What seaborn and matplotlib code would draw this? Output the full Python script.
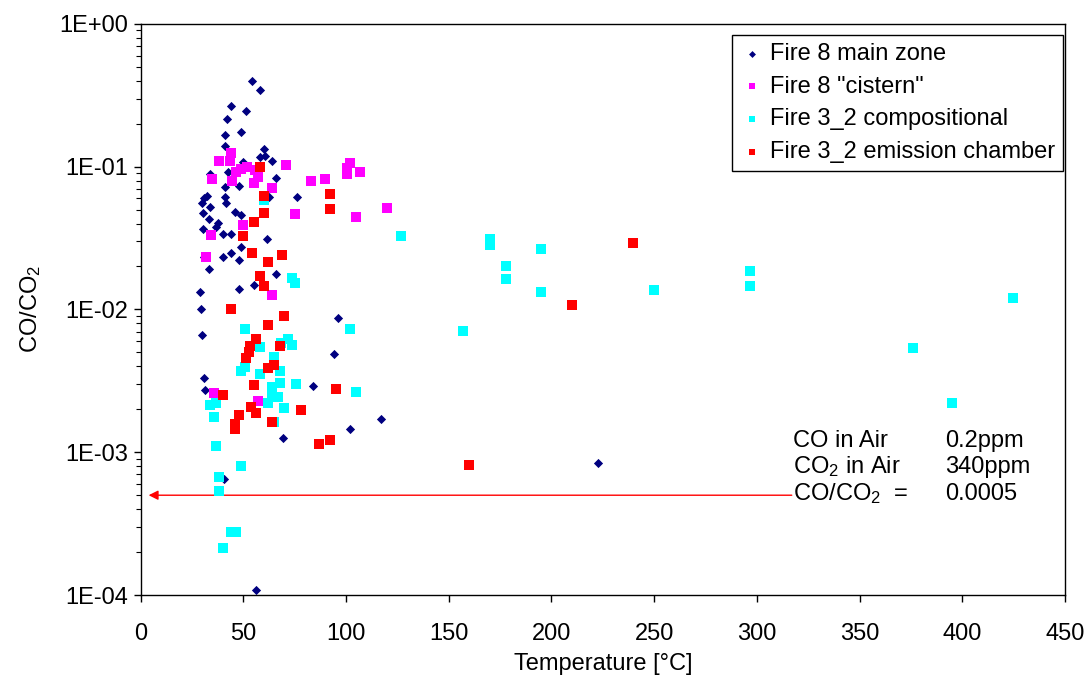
import numpy as np
import pandas as pd
import matplotlib
matplotlib.use("Agg")
import matplotlib.pyplot as plt
from matplotlib.ticker import FuncFormatter, LogLocator, NullFormatter
import seaborn as sns

# ---------------- data ----------------
main_x = [54.0, 57.9, 44.0, 51.1, 42.2, 49.0, 40.9, 41.0, 60.0, 57.9, 60.4, 64.1, 49.8, 42.5,
          33.6, 66.0, 41.0, 47.7, 62.3, 75.9, 32.4, 30.7, 30.0, 41.2, 41.7, 33.9, 30.3, 46.1,
          49.0, 33.1, 37.8, 36.7, 30.3, 39.9, 44.1, 61.5, 49.0, 39.9, 44.0, 48.0, 31.0, 33.1,
          66.0, 55.0, 48.0, 29.0, 29.5, 95.9, 29.8, 94.0, 31.0, 31.5, 83.9, 69.1, 40.4, 56.0,
          116.8, 102.0, 222.6]
main_y = [0.397, 0.345, 0.266, 0.247, 0.217, 0.176, 0.168, 0.140, 0.134, 0.116, 0.118, 0.110,
          0.108, 0.0919, 0.0885, 0.0834, 0.0721, 0.0733, 0.0617, 0.0611, 0.0627, 0.0601, 0.0560,
          0.0617, 0.0555, 0.0520, 0.0472, 0.0484, 0.0461, 0.0428, 0.0402, 0.0380, 0.0366, 0.0336,
          0.0336, 0.0312, 0.0275, 0.0234, 0.0248, 0.0223, 0.0234, 0.0192, 0.0177, 0.0149, 0.0139,
          0.0133, 0.0100, 0.00867, 0.00666, 0.00485, 0.00333, 0.00272, 0.00292, 0.00125,
          0.000653, 0.000108, 0.00170, 0.00145, 0.00084]

cistern_x = [38.0, 44.0, 43.5, 34.9, 46.3, 48.8, 51.9, 55.8, 57.1, 44.4, 55.0, 63.9, 70.9, 82.9,
             89.9, 101.9, 100.6, 100.6, 106.9, 119.8, 104.8, 75.0, 50.0, 34.1, 31.9, 63.9, 35.5,
             57.1]
cistern_y = [0.110, 0.125, 0.110, 0.0817, 0.0919, 0.0969, 0.100, 0.0948, 0.0851, 0.0791, 0.0766,
             0.0710, 0.102, 0.0791, 0.0824, 0.106, 0.0975, 0.0890, 0.0923, 0.0517, 0.0447, 0.0469,
             0.0393, 0.0334, 0.0234, 0.0126, 0.00261, 0.00229]

comp_x = [73.8, 75.0, 50.9, 71.7, 68.5, 73.8, 57.9, 64.9, 50.9, 49.0, 67.8, 57.9, 75.8, 67.8,
          63.9, 63.9, 66.8, 62.0, 33.9, 36.7, 69.8, 35.8, 64.9, 36.8, 49.0, 38.0, 38.0, 44.0,
          46.5, 39.9, 60.0, 126.9, 170.1, 170.1, 178.0, 178.0, 194.9, 194.9, 101.9, 156.9,
          105.0, 249.8, 296.8, 296.8, 375.9, 395.0, 424.8]
comp_y = [0.0167, 0.0153, 0.00734, 0.00618, 0.00585, 0.00561, 0.00546, 0.00462, 0.00397,
          0.00372, 0.00372, 0.00352, 0.00302, 0.00305, 0.00288, 0.00249, 0.00245, 0.00220,
          0.00214, 0.00220, 0.00203, 0.00177, 0.00164, 0.00111, 0.000805, 0.000668, 0.000532,
          0.000277, 0.000277, 0.000214, 0.0585, 0.0327, 0.0310, 0.0283, 0.0203, 0.0164, 0.0267,
          0.0133, 0.00734, 0.00707, 0.00264, 0.0136, 0.0187, 0.0145, 0.00537, 0.00222, 0.0120]

emis_x = [57.9, 60.0, 60.0, 55.0, 92.0, 92.0, 50.0, 54.0, 68.8, 62.0, 57.9, 60.0, 43.8, 69.8,
          62.0, 56.0, 53.4, 67.8, 52.9, 51.3, 62.0, 64.9, 55.0, 94.9, 39.9, 53.8, 77.9, 47.9,
          56.1, 45.8, 45.8, 63.9, 86.8, 92.0, 209.8, 239.8, 159.8]
emis_y = [0.100, 0.0621, 0.0472, 0.0410, 0.0641, 0.0506, 0.0326, 0.0248, 0.0241, 0.0214,
          0.0172, 0.0147, 0.0100, 0.00905, 0.00779, 0.00618, 0.00557, 0.00557, 0.00501,
          0.00459, 0.00391, 0.00408, 0.00294, 0.00277, 0.00252, 0.00207, 0.00199, 0.00182,
          0.00187, 0.00158, 0.00146, 0.00164, 0.00114, 0.00122, 0.0108, 0.0294, 0.000814]

series_names = ['Fire 8 main zone', 'Fire 8 "cistern"', 'Fire 3_2 compositional',
                'Fire 3_2 emission chamber']

air_labels = ['CO in Air', 'CO$_2$ in Air', 'CO/CO$_2$  =']
air_values = ['0.2ppm', '340ppm', '0.0005']
air_ratio = 0.0005

# ---------------- style ----------------
sns.set_style("ticks")
plt.rcParams['font.family'] = ['Liberation Sans', 'DejaVu Sans']
plt.rcParams['mathtext.fontset'] = 'custom'
plt.rcParams['mathtext.rm'] = 'Liberation Sans'
plt.rcParams['mathtext.it'] = 'Liberation Sans:italic'
plt.rcParams['mathtext.default'] = 'regular'
for k in ['text.color', 'axes.labelcolor', 'xtick.color', 'ytick.color',
          'xtick.labelcolor', 'ytick.labelcolor']:
    plt.rcParams[k] = 'black'

FS = 17

fig = plt.figure(figsize=(10.9, 6.8), dpi=100)
ax = fig.add_axes([0.129, 0.125, 0.848, 0.8398])

frames = [
    pd.DataFrame({'T': main_x, 'R': main_y}),
    pd.DataFrame({'T': cistern_x, 'R': cistern_y}),
    pd.DataFrame({'T': comp_x, 'R': comp_y}),
    pd.DataFrame({'T': emis_x, 'R': emis_y}),
]
colors = ['#000080', '#FF00FF', '#00FFFF', '#FF0000']
markers = ['D', 's', 's', 's']
sizes = [22, 42, 42, 42]

for df, name, c, m, s in zip(frames, series_names, colors, markers, sizes):
    sns.scatterplot(data=df, x='T', y='R', ax=ax, color=c, marker=m, s=s,
                    linewidth=0, label=name, zorder=3)

ax.set_yscale('log')
ax.set_xlim(0, 450)
ax.set_ylim(1e-4, 1)
ax.set_xticks(np.arange(0, 451, 50))
ax.yaxis.set_major_locator(LogLocator(base=10, numticks=10))
ax.yaxis.set_minor_locator(LogLocator(base=10, subs=np.arange(2, 10), numticks=20))
ax.yaxis.set_minor_formatter(NullFormatter())
ax.yaxis.set_major_formatter(FuncFormatter(lambda v, p: f"1E{int(round(np.log10(v))):+03d}"))

ax.tick_params(axis='both', which='major', direction='out', length=5, width=1,
               labelsize=FS, color='black', labelcolor='black')
ax.tick_params(axis='x', which='major', pad=15)
ax.tick_params(axis='y', which='major', pad=4)
ax.tick_params(axis='y', which='minor', direction='out', length=3.5, width=0.8, color='black')
ax.tick_params(axis='x', which='minor', bottom=False)
for sp in ax.spines.values():
    sp.set_visible(True)
    sp.set_color('black')
    sp.set_linewidth(1.0)

ax.set_xlabel('Temperature [°C]', fontsize=FS, labelpad=6, color='black')
ax.set_ylabel('CO/CO$_2$', fontsize=FS, labelpad=12, color='black')

leg = ax.legend(loc='upper right', bbox_to_anchor=(0.998, 0.981), fontsize=FS,
                frameon=True, fancybox=False, framealpha=1, edgecolor='black',
                handletextpad=0.25, borderpad=0.35, labelspacing=0.45, handlelength=1.0,
                markerscale=0.75, borderaxespad=0)
leg.get_frame().set_linewidth(1.0)
for t in leg.get_texts():
    t.set_color('black')

# air reference arrow
ax.annotate('', xy=(3.9, air_ratio), xytext=(317, air_ratio),
            arrowprops=dict(arrowstyle='-|>', color='red', lw=1.0, mutation_scale=14,
                            shrinkA=0, shrinkB=0), zorder=2)

row_y = [0.00109, 0.000712, 0.000463]
for lab, val, yy in zip(air_labels, air_values, row_y):
    ax.text(317.5, yy, lab, fontsize=FS, va='baseline', ha='left', color='black')
    ax.text(391.5, yy, val, fontsize=FS, va='baseline', ha='left', color='black')

fig.savefig('out.png', dpi=100)
